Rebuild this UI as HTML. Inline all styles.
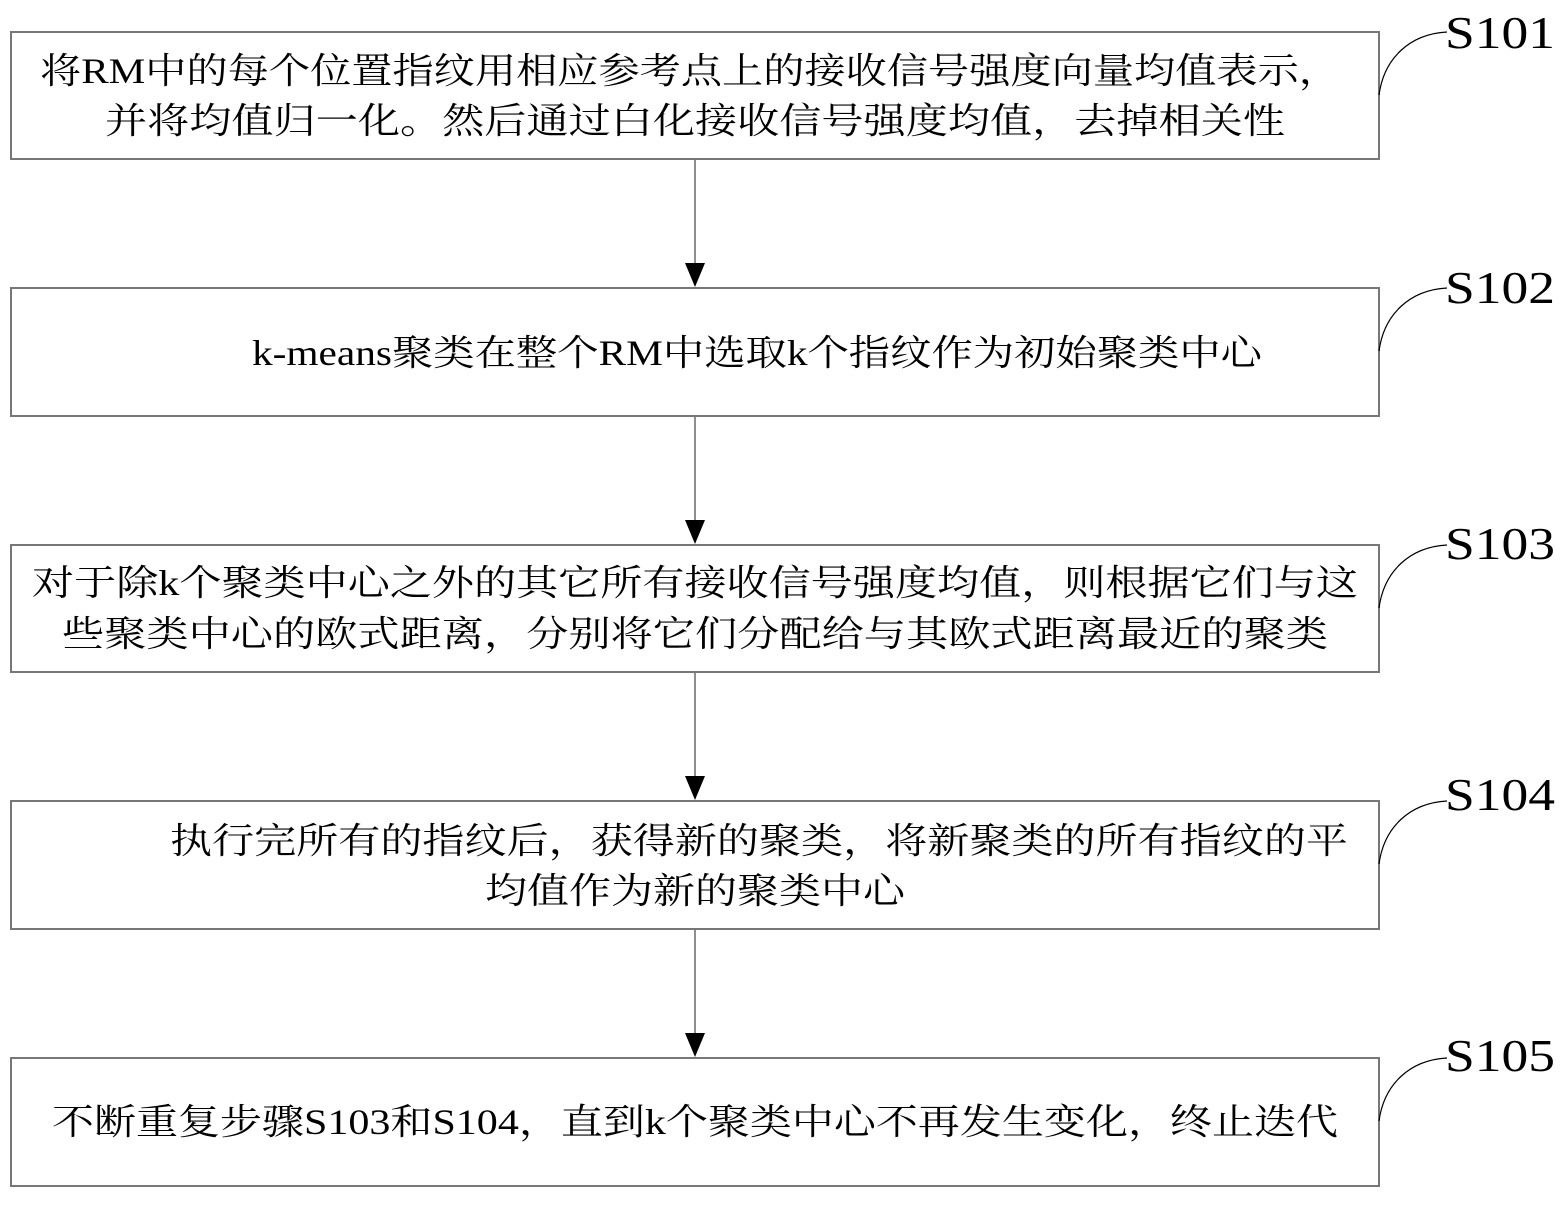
<!DOCTYPE html>
<html><head><meta charset="utf-8"><style>
html,body{margin:0;padding:0;background:#fff;}
svg{display:block}
text{font-family:"Liberation Serif","Noto Serif CJK SC","Noto Sans CJK SC",serif;fill:#000}
</style></head><body>
<svg width="1568" height="1220" viewBox="0 0 1568 1220" xmlns="http://www.w3.org/2000/svg">
<g fill="none" stroke="#777" stroke-width="2">
<rect x="11" y="32" width="1368" height="127"/>
<rect x="11" y="288" width="1368" height="128"/>
<rect x="11" y="545" width="1368" height="127"/>
<rect x="11" y="801" width="1368" height="128"/>
<rect x="11" y="1058" width="1368" height="128"/>
</g>
<g stroke="#444" stroke-width="1.2">
<line x1="695" y1="160" x2="695" y2="265"/>
<line x1="695" y1="417" x2="695" y2="522"/>
<line x1="695" y1="673" x2="695" y2="778"/>
<line x1="695" y1="930" x2="695" y2="1035"/>
</g>
<g fill="#000">
<polygon points="685,263 705,263 695,287"/>
<polygon points="685,520 705,520 695,544"/>
<polygon points="685,776 705,776 695,800"/>
<polygon points="685,1033 705,1033 695,1057"/>
</g>
<g fill="none" stroke="#000" stroke-width="1.2">
<path d="M1379,95 C1384,58 1410,34 1447,32"/>
<path d="M1379,351 C1384,314 1410,290 1447,288"/>
<path d="M1379,608 C1384,571 1410,547 1447,545"/>
<path d="M1379,864 C1384,827 1410,803 1447,801"/>
<path d="M1379,1121 C1384,1084 1410,1060 1447,1058"/>
</g>
<g font-size="46">
<text x="1445" y="48" textLength="110" lengthAdjust="spacingAndGlyphs">S101</text>
<text x="1445" y="303" textLength="110" lengthAdjust="spacingAndGlyphs">S102</text>
<text x="1445" y="559" textLength="110" lengthAdjust="spacingAndGlyphs">S103</text>
<text x="1445" y="810" textLength="110" lengthAdjust="spacingAndGlyphs">S104</text>
<text x="1445" y="1071" textLength="110" lengthAdjust="spacingAndGlyphs">S105</text>
</g>
<g font-size="36">
<text x="40" y="83" textLength="1300" lengthAdjust="spacingAndGlyphs">将RM中的每个位置指纹用相应参考点上的接收信号强度向量均值表示，</text>
<text x="105" y="133" textLength="1180" lengthAdjust="spacingAndGlyphs">并将均值归一化。然后通过白化接收信号强度均值，去掉相关性</text>
<text x="252" y="365" textLength="1010" lengthAdjust="spacingAndGlyphs">k-means聚类在整个RM中选取k个指纹作为初始聚类中心</text>
<text x="32" y="595" textLength="1326" lengthAdjust="spacingAndGlyphs">对于除k个聚类中心之外的其它所有接收信号强度均值，则根据它们与这</text>
<text x="62" y="646" textLength="1266" lengthAdjust="spacingAndGlyphs">些聚类中心的欧式距离，分别将它们分配给与其欧式距离最近的聚类</text>
<text x="170" y="853" textLength="1178" lengthAdjust="spacingAndGlyphs">执行完所有的指纹后，获得新的聚类，将新聚类的所有指纹的平</text>
<text x="485" y="903" textLength="420" lengthAdjust="spacingAndGlyphs">均值作为新的聚类中心</text>
<text x="52" y="1134" textLength="1286" lengthAdjust="spacingAndGlyphs">不断重复步骤S103和S104，直到k个聚类中心不再发生变化，终止迭代</text>
</g>
</svg>
</body></html>
